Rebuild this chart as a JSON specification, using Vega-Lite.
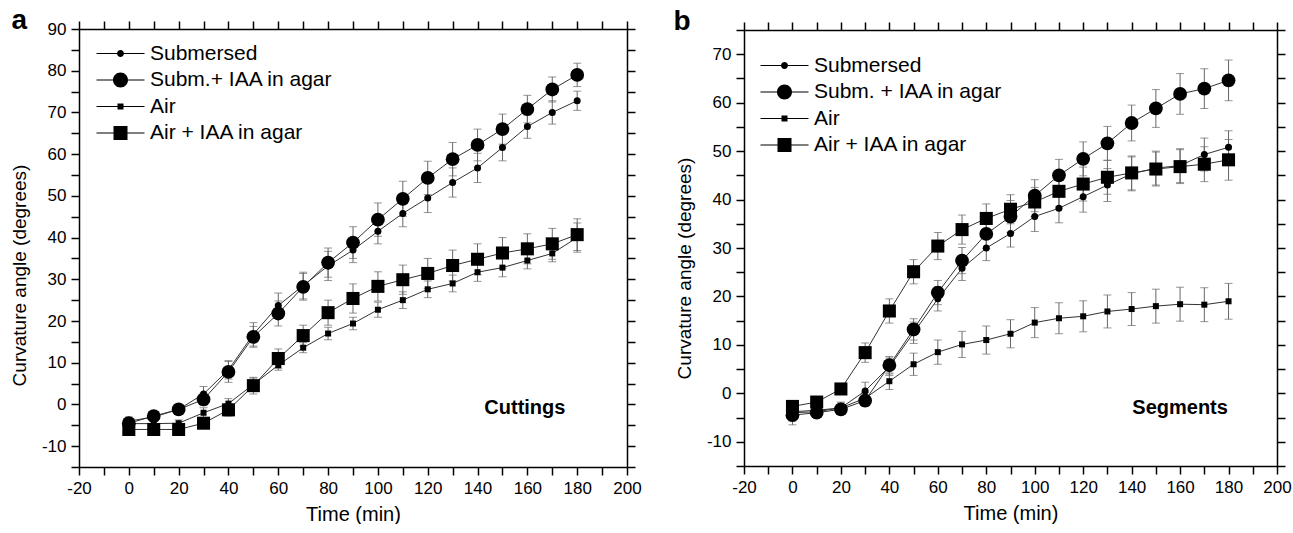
{
  "$schema": "https://vega.github.io/schema/vega-lite/v6.json",
  "background": "white",
  "autosize": {"type": "pad"},
  "padding": {"left": 10, "top": 6, "right": 0, "bottom": 0},
  "bounds": "flush",
  "spacing": 117,
  "center": true,
  "config": {
    "font": "Liberation Sans",
    "view": {"stroke": null},
    "axis": {"grid": false, "domainColor": "black", "domainWidth": 1.5, "tickColor": "black", "tickWidth": 1.5, "tickSize": 8,
      "labelFont": "Liberation Sans", "labelFontSize": 17, "labelColor": "black", "labelPadding": 5, "labelFlush": false, "labelOverlap": false,
      "titleFont": "Liberation Sans", "titleFontSize": 20, "titleFontWeight": "normal", "titleColor": "black"}
  },
  "resolve": {"scale": {"x": "independent", "y": "independent", "shape": "independent"}, "legend": {"shape": "independent"}},
  "datasets": {
    "cut": [
      {"t":0,"s":"Submersed","v":-4.0,"e":1},{"t":10,"s":"Submersed","v":-3.0,"e":1},{"t":20,"s":"Submersed","v":-1.2,"e":0.8},{"t":30,"s":"Submersed","v":2.5,"e":1.8},{"t":40,"s":"Submersed","v":8.3,"e":2.2},{"t":50,"s":"Submersed","v":16.8,"e":2.8},{"t":60,"s":"Submersed","v":23.7,"e":3},{"t":70,"s":"Submersed","v":28.5,"e":3.2},{"t":80,"s":"Submersed","v":33.2,"e":3.5},{"t":90,"s":"Submersed","v":37.0,"e":3},{"t":100,"s":"Submersed","v":41.5,"e":3},{"t":110,"s":"Submersed","v":45.8,"e":3.2},{"t":120,"s":"Submersed","v":49.5,"e":3.5},{"t":130,"s":"Submersed","v":53.2,"e":3.5},{"t":140,"s":"Submersed","v":56.7,"e":3.5},{"t":150,"s":"Submersed","v":61.6,"e":3.2},{"t":160,"s":"Submersed","v":66.6,"e":2.8},{"t":170,"s":"Submersed","v":70.0,"e":2.8},{"t":180,"s":"Submersed","v":72.8,"e":2.3},
      {"t":0,"s":"Subm.+ IAA in agar","v":-4.5,"e":1.2},{"t":10,"s":"Subm.+ IAA in agar","v":-2.8,"e":1},{"t":20,"s":"Subm.+ IAA in agar","v":-1.2,"e":0.8},{"t":30,"s":"Subm.+ IAA in agar","v":1.2,"e":1.5},{"t":40,"s":"Subm.+ IAA in agar","v":7.8,"e":2.5},{"t":50,"s":"Subm.+ IAA in agar","v":16.2,"e":2.5},{"t":60,"s":"Subm.+ IAA in agar","v":21.8,"e":3},{"t":70,"s":"Subm.+ IAA in agar","v":28.2,"e":3.2},{"t":80,"s":"Subm.+ IAA in agar","v":34.0,"e":3.5},{"t":90,"s":"Subm.+ IAA in agar","v":38.8,"e":3.8},{"t":100,"s":"Subm.+ IAA in agar","v":44.3,"e":4},{"t":110,"s":"Subm.+ IAA in agar","v":49.3,"e":4.2},{"t":120,"s":"Subm.+ IAA in agar","v":54.3,"e":4},{"t":130,"s":"Subm.+ IAA in agar","v":58.8,"e":4},{"t":140,"s":"Subm.+ IAA in agar","v":62.2,"e":3.8},{"t":150,"s":"Subm.+ IAA in agar","v":66.0,"e":3.6},{"t":160,"s":"Subm.+ IAA in agar","v":70.8,"e":3.3},{"t":170,"s":"Subm.+ IAA in agar","v":75.5,"e":3},{"t":180,"s":"Subm.+ IAA in agar","v":79.0,"e":2.8},
      {"t":0,"s":"Air","v":-4.6,"e":0.8},{"t":10,"s":"Air","v":-4.6,"e":0.8},{"t":20,"s":"Air","v":-4.5,"e":0.8},{"t":30,"s":"Air","v":-2.0,"e":1.2},{"t":40,"s":"Air","v":0.2,"e":1.2},{"t":50,"s":"Air","v":4.8,"e":1.5},{"t":60,"s":"Air","v":9.4,"e":1.2},{"t":70,"s":"Air","v":13.6,"e":1.2},{"t":80,"s":"Air","v":17.0,"e":1.5},{"t":90,"s":"Air","v":19.4,"e":1.5},{"t":100,"s":"Air","v":22.7,"e":1.8},{"t":110,"s":"Air","v":25.0,"e":2},{"t":120,"s":"Air","v":27.6,"e":2},{"t":130,"s":"Air","v":29.0,"e":2},{"t":140,"s":"Air","v":31.7,"e":2.2},{"t":150,"s":"Air","v":32.8,"e":2.2},{"t":160,"s":"Air","v":34.5,"e":2},{"t":170,"s":"Air","v":36.2,"e":2},{"t":180,"s":"Air","v":40.0,"e":3.5},
      {"t":0,"s":"Air + IAA in agar","v":-6.0,"e":1},{"t":10,"s":"Air + IAA in agar","v":-6.0,"e":1},{"t":20,"s":"Air + IAA in agar","v":-6.0,"e":1},{"t":30,"s":"Air + IAA in agar","v":-4.5,"e":1.2},{"t":40,"s":"Air + IAA in agar","v":-1.3,"e":1.5},{"t":50,"s":"Air + IAA in agar","v":4.5,"e":2},{"t":60,"s":"Air + IAA in agar","v":11.0,"e":2.3},{"t":70,"s":"Air + IAA in agar","v":16.5,"e":2.5},{"t":80,"s":"Air + IAA in agar","v":22.0,"e":3},{"t":90,"s":"Air + IAA in agar","v":25.4,"e":3.5},{"t":100,"s":"Air + IAA in agar","v":28.3,"e":3.5},{"t":110,"s":"Air + IAA in agar","v":29.9,"e":3.5},{"t":120,"s":"Air + IAA in agar","v":31.4,"e":3.6},{"t":130,"s":"Air + IAA in agar","v":33.3,"e":3.7},{"t":140,"s":"Air + IAA in agar","v":34.8,"e":3.7},{"t":150,"s":"Air + IAA in agar","v":36.3,"e":3.7},{"t":160,"s":"Air + IAA in agar","v":37.3,"e":3.6},{"t":170,"s":"Air + IAA in agar","v":38.5,"e":3.7},{"t":180,"s":"Air + IAA in agar","v":40.7,"e":3.8}
    ],
    "seg": [
      {"t":0,"s":"Submersed","v":-4.0,"e":2.5},{"t":10,"s":"Submersed","v":-3.8,"e":1.2},{"t":20,"s":"Submersed","v":-3.0,"e":1.2},{"t":30,"s":"Submersed","v":0.5,"e":1.8},{"t":40,"s":"Submersed","v":5.5,"e":1.8},{"t":50,"s":"Submersed","v":12.5,"e":2.2},{"t":60,"s":"Submersed","v":19.5,"e":2.5},{"t":70,"s":"Submersed","v":25.8,"e":2.5},{"t":80,"s":"Submersed","v":30.0,"e":2.6},{"t":90,"s":"Submersed","v":33.0,"e":2.8},{"t":100,"s":"Submersed","v":36.5,"e":3.1},{"t":110,"s":"Submersed","v":38.2,"e":3.0},{"t":120,"s":"Submersed","v":40.6,"e":3.2},{"t":130,"s":"Submersed","v":43.0,"e":3.4},{"t":140,"s":"Submersed","v":45.3,"e":3.5},{"t":150,"s":"Submersed","v":46.5,"e":3.5},{"t":160,"s":"Submersed","v":47.0,"e":3.5},{"t":170,"s":"Submersed","v":49.3,"e":3.4},{"t":180,"s":"Submersed","v":50.8,"e":3.4},
      {"t":0,"s":"Subm. + IAA in agar","v":-4.5,"e":1.2},{"t":10,"s":"Subm. + IAA in agar","v":-4.0,"e":1},{"t":20,"s":"Subm. + IAA in agar","v":-3.3,"e":1},{"t":30,"s":"Subm. + IAA in agar","v":-1.5,"e":1.2},{"t":40,"s":"Subm. + IAA in agar","v":5.8,"e":1.8},{"t":50,"s":"Subm. + IAA in agar","v":13.2,"e":2.2},{"t":60,"s":"Subm. + IAA in agar","v":20.8,"e":2.5},{"t":70,"s":"Subm. + IAA in agar","v":27.4,"e":2.7},{"t":80,"s":"Subm. + IAA in agar","v":32.9,"e":3},{"t":90,"s":"Subm. + IAA in agar","v":36.5,"e":3.3},{"t":100,"s":"Subm. + IAA in agar","v":40.8,"e":3.3},{"t":110,"s":"Subm. + IAA in agar","v":45.0,"e":3.3},{"t":120,"s":"Subm. + IAA in agar","v":48.4,"e":3.5},{"t":130,"s":"Subm. + IAA in agar","v":51.6,"e":3.5},{"t":140,"s":"Subm. + IAA in agar","v":55.8,"e":3.7},{"t":150,"s":"Subm. + IAA in agar","v":58.8,"e":3.9},{"t":160,"s":"Subm. + IAA in agar","v":61.8,"e":4.2},{"t":170,"s":"Subm. + IAA in agar","v":62.9,"e":4.1},{"t":180,"s":"Subm. + IAA in agar","v":64.6,"e":4.2},
      {"t":0,"s":"Air","v":-3.8,"e":1},{"t":10,"s":"Air","v":-3.5,"e":1},{"t":20,"s":"Air","v":-3.0,"e":1},{"t":30,"s":"Air","v":-1.0,"e":1.2},{"t":40,"s":"Air","v":2.5,"e":1.7},{"t":50,"s":"Air","v":6.0,"e":2.3},{"t":60,"s":"Air","v":8.5,"e":2.5},{"t":70,"s":"Air","v":10.1,"e":2.7},{"t":80,"s":"Air","v":11.0,"e":2.9},{"t":90,"s":"Air","v":12.3,"e":2.9},{"t":100,"s":"Air","v":14.6,"e":3.1},{"t":110,"s":"Air","v":15.5,"e":3.2},{"t":120,"s":"Air","v":15.9,"e":3.2},{"t":130,"s":"Air","v":16.9,"e":3.4},{"t":140,"s":"Air","v":17.4,"e":3.4},{"t":150,"s":"Air","v":18.0,"e":3.5},{"t":160,"s":"Air","v":18.4,"e":3.5},{"t":170,"s":"Air","v":18.3,"e":3.5},{"t":180,"s":"Air","v":19.0,"e":3.7},
      {"t":0,"s":"Air + IAA in agar","v":-2.7,"e":0.8},{"t":10,"s":"Air + IAA in agar","v":-1.8,"e":1},{"t":20,"s":"Air + IAA in agar","v":0.9,"e":1},{"t":30,"s":"Air + IAA in agar","v":8.4,"e":2},{"t":40,"s":"Air + IAA in agar","v":17.0,"e":2.5},{"t":50,"s":"Air + IAA in agar","v":25.1,"e":2.5},{"t":60,"s":"Air + IAA in agar","v":30.4,"e":2.8},{"t":70,"s":"Air + IAA in agar","v":33.8,"e":3},{"t":80,"s":"Air + IAA in agar","v":36.1,"e":3},{"t":90,"s":"Air + IAA in agar","v":38.0,"e":3},{"t":100,"s":"Air + IAA in agar","v":39.5,"e":3},{"t":110,"s":"Air + IAA in agar","v":41.7,"e":3.2},{"t":120,"s":"Air + IAA in agar","v":43.2,"e":3.5},{"t":130,"s":"Air + IAA in agar","v":44.6,"e":3.5},{"t":140,"s":"Air + IAA in agar","v":45.5,"e":3.5},{"t":150,"s":"Air + IAA in agar","v":46.3,"e":3.5},{"t":160,"s":"Air + IAA in agar","v":46.8,"e":3.5},{"t":170,"s":"Air + IAA in agar","v":47.3,"e":3.6},{"t":180,"s":"Air + IAA in agar","v":48.2,"e":4.2}
    ]
  },
  "hconcat": [
    {
      "width": 548, "height": 438,
      "data": {"name": "cut"},
      "resolve": {"axis": {"x": "independent", "y": "independent"}},
      "layer": [
        {
          "mark": {"type": "errorbar", "ticks": {"size": 8, "color": "#666", "strokeWidth": 1}, "color": "#666", "thickness": 1},
          "encoding": {
            "x": {"field": "t", "type": "quantitative", "scale": {"domain": [-20, 200], "nice": false, "zero": false}, "axis": null},
            "y": {"field": "v", "type": "quantitative", "scale": {"domain": [-15, 90], "nice": false, "zero": false}, "axis": null},
            "yError": {"field": "e"}
          }
        },
        {
          "mark": {"type": "line", "color": "#333", "strokeWidth": 1},
          "encoding": {
            "x": {"field": "t", "type": "quantitative", "scale": {"domain": [-20, 200], "nice": false, "zero": false},
              "axis": {"orient": "bottom", "title": "Time (min)", "titlePadding": 8, "values": [-20,-10,0,10,20,30,40,50,60,70,80,90,100,110,120,130,140,150,160,170,180,190,200],
                "labelExpr": "datum.value % 20 === 0 ? toString(datum.value) : ''",
                "encode": {"ticks": {"update": {"y2": {"signal": "datum.value % 20 === 0 ? 8 : 4"}}}}}},
            "y": {"field": "v", "type": "quantitative", "scale": {"domain": [-15, 90], "nice": false, "zero": false},
              "axis": {"orient": "left", "title": "Curvature angle (degrees)", "titleFontSize": 19, "titlePadding": 12, "titleY": 246, "values": [-15,-10,-5,0,5,10,15,20,25,30,35,40,45,50,55,60,65,70,75,80,85,90],
                "labelExpr": "datum.value % 10 === 0 ? toString(datum.value) : ''",
                "encode": {"ticks": {"update": {"x2": {"signal": "datum.value % 10 === 0 ? -8 : -4"}}}}}},
            "detail": {"field": "s"}
          }
        },
        {
          "mark": {"type": "point", "filled": true, "color": "black", "opacity": 1},
          "encoding": {
            "x": {"field": "t", "type": "quantitative", "scale": {"domain": [-20, 200], "nice": false, "zero": false},
              "axis": {"orient": "top", "title": "a", "titleFontSize": 28, "titleFontWeight": "bold", "titleAnchor": "start", "titleAlign": "left", "titleBaseline": "alphabetic", "titleX": -68, "titleY": -1, "labels": false, "values": [-20,-10,0,10,20,30,40,50,60,70,80,90,100,110,120,130,140,150,160,170,180,190,200],
                "encode": {"ticks": {"update": {"y2": {"signal": "datum.value % 20 === 0 ? 8 : 4"}}}}}},
            "y": {"field": "v", "type": "quantitative", "scale": {"domain": [-15, 90], "nice": false, "zero": false},
              "axis": {"orient": "right", "title": null, "labels": false, "values": [-15,-10,-5,0,5,10,15,20,25,30,35,40,45,50,55,60,65,70,75,80,85,90],
                "encode": {"ticks": {"update": {"x2": {"signal": "datum.value % 10 === 0 ? -8 : -4"}}}}}},
            "shape": {"condition": {"test": "datum.s === 'Air' || datum.s === 'Air + IAA in agar'", "value": "square"}, "value": "circle"},
            "size": {"condition": [{"test": "datum.s === 'Submersed'", "value": 49}, {"test": "datum.s === 'Air'", "value": 36}, {"test": "datum.s === 'Air + IAA in agar'", "value": 170}], "value": 190}
          }
        },
        {
          "mark": {"type": "point", "filled": true, "color": "black", "opacity": 0, "size": 4},
          "encoding": {
            "x": {"field": "t", "type": "quantitative", "scale": {"domain": [-20, 200], "nice": false, "zero": false}, "axis": null},
            "y": {"field": "v", "type": "quantitative", "scale": {"domain": [-15, 90], "nice": false, "zero": false}, "axis": null},
            "shape": {"field": "s", "type": "nominal",
              "scale": {"domain": ["Submersed", "Subm.+ IAA in agar", "Air", "Air + IAA in agar"],
                "range": ["M-24,-0.5L24,-0.5L24,0.5L-24,0.5ZM-3.5,0A3.5,3.5,0,1,1,3.5,0A3.5,3.5,0,1,1,-3.5,0Z", "M-24,-0.5L24,-0.5L24,0.5L-24,0.5ZM-7.5,0A7.5,7.5,0,1,1,7.5,0A7.5,7.5,0,1,1,-7.5,0Z", "M-24,-0.5L24,-0.5L24,0.5L-24,0.5ZM-3,-3L3,-3L3,3L-3,3Z", "M-24,-0.5L24,-0.5L24,0.5L-24,0.5ZM-7,-7L7,-7L7,7L-7,7Z"]},
              "legend": {"orient": "none", "title": null, "legendX": 31, "legendY": 14, "direction": "vertical",
                "labelFont": "Liberation Sans", "labelFontSize": 21, "labelColor": "black", "symbolSize": 4, "labelOffset": 19, "rowPadding": 4.5, "padding": 0, "labelLimit": 400,
                "symbolOpacity": 1, "symbolFillColor": "black"}}
          }
        },
        {
          "data": {"values": [{"label": "Cuttings"}]},
          "mark": {"type": "text", "fontSize": 20, "fontWeight": "bold", "font": "Liberation Sans", "color": "black"},
          "encoding": {
            "x": {"datum": 159, "type": "quantitative", "scale": {"domain": [-20, 200], "nice": false, "zero": false}, "axis": null},
            "y": {"datum": -0.8, "type": "quantitative", "scale": {"domain": [-15, 90], "nice": false, "zero": false}, "axis": null},
            "text": {"field": "label"}
          }
        }
      ]
    },
    {
      "width": 533, "height": 436,
      "data": {"name": "seg"},
      "resolve": {"axis": {"x": "independent", "y": "independent"}},
      "layer": [
        {
          "mark": {"type": "errorbar", "ticks": {"size": 8, "color": "#666", "strokeWidth": 1}, "color": "#666", "thickness": 1},
          "encoding": {
            "x": {"field": "t", "type": "quantitative", "scale": {"domain": [-20, 200], "nice": false, "zero": false}, "axis": null},
            "y": {"field": "v", "type": "quantitative", "scale": {"domain": [-15, 75], "nice": false, "zero": false}, "axis": null},
            "yError": {"field": "e"}
          }
        },
        {
          "mark": {"type": "line", "color": "#333", "strokeWidth": 1},
          "encoding": {
            "x": {"field": "t", "type": "quantitative", "scale": {"domain": [-20, 200], "nice": false, "zero": false},
              "axis": {"orient": "bottom", "title": "Time (min)", "titlePadding": 8, "values": [-20,-10,0,10,20,30,40,50,60,70,80,90,100,110,120,130,140,150,160,170,180,190,200],
                "labelExpr": "datum.value % 20 === 0 ? toString(datum.value) : ''",
                "encode": {"ticks": {"update": {"y2": {"signal": "datum.value % 20 === 0 ? 8 : 4"}}}}}},
            "y": {"field": "v", "type": "quantitative", "scale": {"domain": [-15, 75], "nice": false, "zero": false},
              "axis": {"orient": "left", "title": "Curvature angle (degrees)", "titleFontSize": 19, "titlePadding": 12, "titleY": 238, "values": [-15,-10,-5,0,5,10,15,20,25,30,35,40,45,50,55,60,65,70,75],
                "labelExpr": "datum.value % 10 === 0 ? toString(datum.value) : ''",
                "encode": {"ticks": {"update": {"x2": {"signal": "datum.value % 10 === 0 ? -8 : -4"}}}}}},
            "detail": {"field": "s"}
          }
        },
        {
          "mark": {"type": "point", "filled": true, "color": "black", "opacity": 1},
          "encoding": {
            "x": {"field": "t", "type": "quantitative", "scale": {"domain": [-20, 200], "nice": false, "zero": false},
              "axis": {"orient": "top", "title": "b", "titleFontSize": 28, "titleFontWeight": "bold", "titleAnchor": "start", "titleAlign": "left", "titleBaseline": "alphabetic", "titleX": -71, "titleY": -1, "labels": false, "values": [-20,-10,0,10,20,30,40,50,60,70,80,90,100,110,120,130,140,150,160,170,180,190,200],
                "encode": {"ticks": {"update": {"y2": {"signal": "datum.value % 20 === 0 ? 8 : 4"}}}}}},
            "y": {"field": "v", "type": "quantitative", "scale": {"domain": [-15, 75], "nice": false, "zero": false},
              "axis": {"orient": "right", "title": null, "labels": false, "values": [-15,-10,-5,0,5,10,15,20,25,30,35,40,45,50,55,60,65,70,75],
                "encode": {"ticks": {"update": {"x2": {"signal": "datum.value % 10 === 0 ? -8 : -4"}}}}}},
            "shape": {"condition": {"test": "datum.s === 'Air' || datum.s === 'Air + IAA in agar'", "value": "square"}, "value": "circle"},
            "size": {"condition": [{"test": "datum.s === 'Submersed'", "value": 49}, {"test": "datum.s === 'Air'", "value": 36}, {"test": "datum.s === 'Air + IAA in agar'", "value": 170}], "value": 190}
          }
        },
        {
          "mark": {"type": "point", "filled": true, "color": "black", "opacity": 0, "size": 4},
          "encoding": {
            "x": {"field": "t", "type": "quantitative", "scale": {"domain": [-20, 200], "nice": false, "zero": false}, "axis": null},
            "y": {"field": "v", "type": "quantitative", "scale": {"domain": [-15, 75], "nice": false, "zero": false}, "axis": null},
            "shape": {"field": "s", "type": "nominal",
              "scale": {"domain": ["Submersed", "Subm. + IAA in agar", "Air", "Air + IAA in agar"],
                "range": ["M-24,-0.5L24,-0.5L24,0.5L-24,0.5ZM-3.5,0A3.5,3.5,0,1,1,3.5,0A3.5,3.5,0,1,1,-3.5,0Z", "M-24,-0.5L24,-0.5L24,0.5L-24,0.5ZM-7.5,0A7.5,7.5,0,1,1,7.5,0A7.5,7.5,0,1,1,-7.5,0Z", "M-24,-0.5L24,-0.5L24,0.5L-24,0.5ZM-3,-3L3,-3L3,3L-3,3Z", "M-24,-0.5L24,-0.5L24,0.5L-24,0.5ZM-7,-7L7,-7L7,7L-7,7Z"]},
              "legend": {"orient": "none", "title": null, "legendX": 30, "legendY": 25, "direction": "vertical",
                "labelFont": "Liberation Sans", "labelFontSize": 21, "labelColor": "black", "symbolSize": 4, "labelOffset": 19, "rowPadding": 4.5, "padding": 0, "labelLimit": 400,
                "symbolOpacity": 1, "symbolFillColor": "black"}}
          }
        },
        {
          "data": {"values": [{"label": "Segments"}]},
          "mark": {"type": "text", "fontSize": 20, "fontWeight": "bold", "font": "Liberation Sans", "color": "black"},
          "encoding": {
            "x": {"datum": 160, "type": "quantitative", "scale": {"domain": [-20, 200], "nice": false, "zero": false}, "axis": null},
            "y": {"datum": -3, "type": "quantitative", "scale": {"domain": [-15, 75], "nice": false, "zero": false}, "axis": null},
            "text": {"field": "label"}
          }
        }
      ]
    }
  ]
}
